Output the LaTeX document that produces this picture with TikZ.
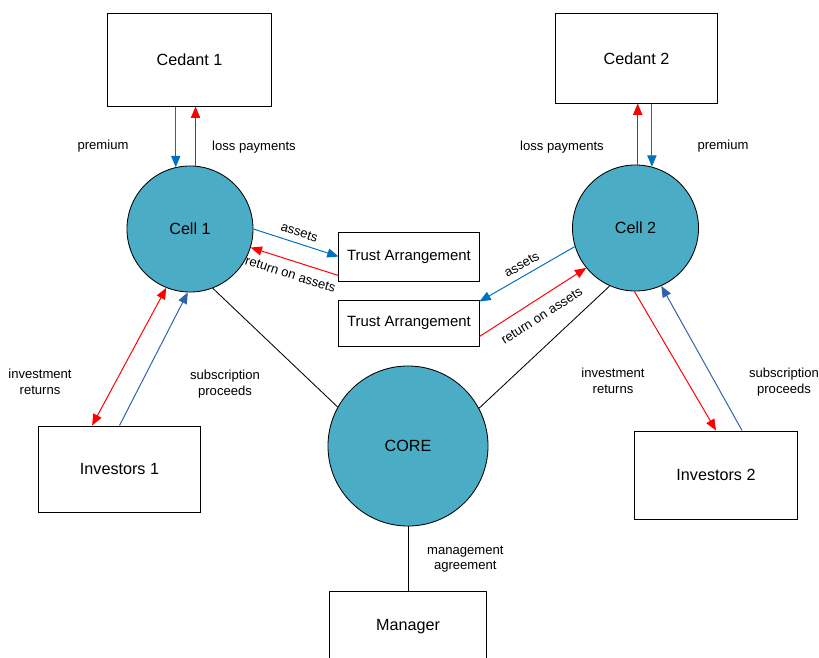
\documentclass[tikz,border=0pt]{standalone}
\usepackage{fontspec}
\setmainfont{Liberation Sans}
\usepackage{tikz}
\usetikzlibrary{arrows.meta, positioning}
\definecolor{cellteal}{HTML}{4BACC6}
\definecolor{flowblue}{HTML}{0070C0}
\definecolor{subblue}{HTML}{2E62AC}
\definecolor{flowred}{HTML}{FF0000}
\tikzstyle{party} = [rectangle, draw=black, fill=white, text centered, line width=0.7pt, font=\fontsize{11.5}{14}\selectfont]
\tikzstyle{cell} = [circle, draw=black, fill=cellteal, minimum size=3.15cm, inner sep=0pt, line width=0.6pt, font=\fontsize{11.5}{14}\selectfont]
\tikzstyle{trust} = [rectangle, draw=black, fill=white, minimum width=3.5cm, line width=0.7pt, font=\fontsize{10.6}{13}\selectfont]
\tikzstyle{flow} = [align=center, text=black, font=\fontsize{9.3}{11}\selectfont]
\tikzstyle{bluearrow} = [line width=0.7pt, draw=flowblue, >={Triangle[length=8pt,width=6.5pt]}, ->]
\tikzstyle{subarrow} = [line width=0.7pt, draw=subblue, >={Triangle[length=8pt,width=6.5pt]}, ->]
\tikzstyle{redarrow} = [line width=0.7pt, draw=flowred, >={Triangle[length=8pt,width=6.5pt]}, ->]
\tikzstyle{link} = [line width=0.6pt, draw=black]

\begin{document}
\begin{tikzpicture}[x=0.025cm, y=-0.025cm]
        \useasboundingbox (0,0) rectangle (819,657);
        % Parties and cells
        \node (Cedant1) [party, minimum width=4.075cm, minimum height=2.3cm] at (189.5,60) {Cedant 1};
        \node (Cedant2) [party, minimum width=4.025cm, minimum height=2.225cm] at (636.5,58.5) {Cedant 2};
        \node (Cell1) [cell] at (190,229) {Cell 1};
        \node (Cell2) [cell] at (635.5,228) {Cell 2};
        \node (CORE) [cell, minimum size=4cm] at (408,446) {CORE};
        \node (Trust1) [trust, minimum height=1.225cm] at (409,256.5) {Trust Arrangement};
        \node (Trust2) [trust, minimum height=1.15cm, below=0.45cm of Trust1] {Trust Arrangement};
        \node (Investors1) [party, minimum width=4.025cm, minimum height=2.15cm] at (119.5,469) {Investors 1};
        \node (Investors2) [party, minimum width=4.05cm, minimum height=2.2cm] at (716,475) {Investors 2};
        \node (Manager) [party, minimum width=3.9cm, minimum height=1.75cm, below=1.625cm of CORE] {Manager};
        % Premium and loss payments
        \draw [bluearrow] (Cell1.103 |- Cedant1.south) -- (Cell1.103);
        \draw [redarrow] (Cell1.85) -- (Cell1.85 |- Cedant1.south);
        \draw [redarrow] (Cell2.88) -- (Cell2.88 |- Cedant2.south);
        \draw [bluearrow] (Cell2.75 |- Cedant2.south) -- (Cell2.75);
        \node [flow] at (103,146) {premium};
        \node [flow] at (254,147) {loss payments};
        \node [flow] at (562,147) {loss payments};
        \node [flow] at (723,146) {premium};
        % Assets held in trust
        \draw [bluearrow] (Cell1.0) -- node[flow, sloped, above=1pt] {assets} (Trust1.west);
        \draw [redarrow] ([yshift=0.15cm]Trust1.south west) -- node[flow, sloped, below=3pt] {return on assets} (Cell1.-17);
        \draw [bluearrow] (Cell2.197) -- node[flow, sloped, above=1pt] {assets} ([yshift=-0.05cm]Trust2.north east);
        \draw [redarrow] ([yshift=0.25cm]Trust2.south east) -- node[flow, sloped, below=5pt] {return on assets} (Cell2.219);
        % Investors
        \draw [redarrow, <->] ([xshift=1.34cm]Investors1.north west) -- (Cell1.248);
        \draw [subarrow] (Investors1.north) -- (Cell1.268);
        \draw [redarrow] (Cell2.269) -- (Investors2.north);
        \draw [subarrow] ([xshift=0.65cm]Investors2.north) -- (Cell2.-66);
        \node [flow] at (40,382) {investment\\returns};
        \node [flow] at (225,384) {subscription\\proceeds};
        \node [flow] at (613,381) {investment\\returns};
        \node [flow] at (784,382) {subscription\\proceeds};
        % Core links
        \draw [link] (Cell1.-69) -- (CORE.151);
        \draw [link] (Cell2.-114) -- (CORE.28);
        \draw [link] (CORE.south) -- node[flow, right=0.35cm] {management\\agreement} (Manager.north);
    \end{tikzpicture}
\end{document}
